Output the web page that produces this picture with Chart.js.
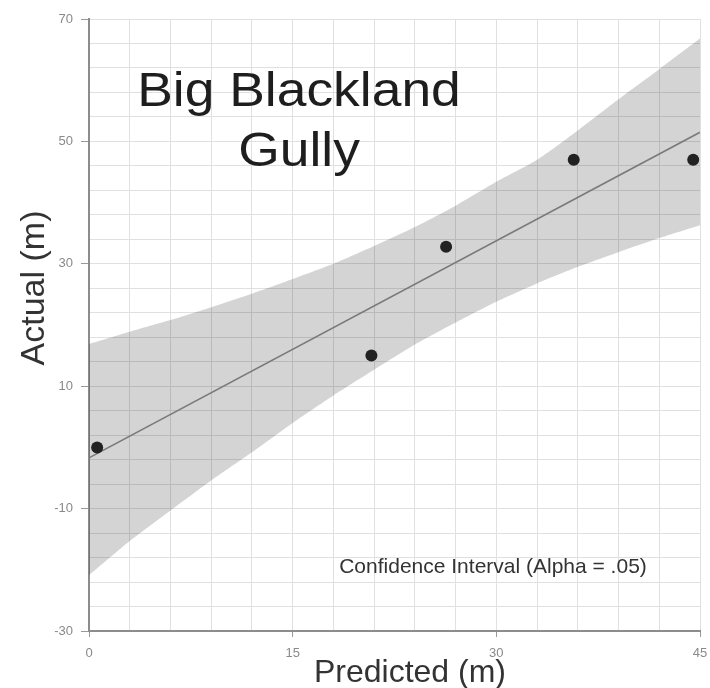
<!DOCTYPE html>
<html>
<head>
<meta charset="utf-8">
<script src="https://cdn.jsdelivr.net/npm/chart.js@4/dist/chart.umd.min.js"></script>
<style>
  html, body { margin: 0; padding: 0; background: #fff; }
  #wrap { width: 710px; height: 688px; }
</style>
</head>
<body>
<div id="wrap"><canvas id="fitChart" width="710" height="688"></canvas></div>
<script>
// observed points
var predicted = [0.6, 20.8, 26.3, 35.7, 44.5];
var actual = [0, 15, 32.8, 47, 47];

// fitted line ends
var fitX = [0, 45];
var fitY = [-1.7, 51.5];

// confidence band, read every 3 m
var bandX = [0, 3, 6, 9, 12, 15, 18, 21, 24, 27, 30, 33, 36, 39, 42, 45];
var bandUpper = [16.9, 18.9, 20.8, 22.9, 25.1, 27.5, 30.0, 32.9, 36.0, 39.5, 43.4, 47.0, 51.8, 56.9, 61.8, 66.8];
var bandLower = [-20.9, -15.3, -10.3, -5.4, -0.8, 4.0, 8.5, 12.7, 16.8, 20.4, 23.8, 26.8, 29.5, 31.9, 34.2, 36.3];

// labelled ticks
var xTickLabels = [0, 15, 30, 45];
var yTickLabels = [70, 50, 30, 10, -10, -30];

function pairs(xs, ys) {
    return xs.map(function (x, i) { return { x: x, y: ys[i] }; });
}

var textPlugin = {
    id: "chartText",
    afterDraw: function (chart) {
        var ctx = chart.ctx;
        ctx.save();
        ctx.fillStyle = "#1e1e1e";
        ctx.textAlign = "center";
        ctx.textBaseline = "alphabetic";

        // title, a bit wide like the original
        ctx.font = "49px 'Liberation Sans', Arial, sans-serif";
        ctx.save();
        ctx.translate(299, 0);
        ctx.scale(1.09, 1);
        ctx.fillText("Big Blackland", 0, 106);
        ctx.fillText("Gully", 0, 166);
        ctx.restore();

        ctx.fillStyle = "#333";
        ctx.font = "21px 'Liberation Sans', Arial, sans-serif";
        ctx.fillText("Confidence Interval (Alpha = .05)", 493, 573);

        ctx.font = "32px 'Liberation Sans', Arial, sans-serif";
        ctx.fillText("Predicted (m)", 410, 682);

        ctx.save();
        ctx.translate(44, 288);
        ctx.rotate(-Math.PI / 2);
        ctx.font = "34px 'Liberation Sans', Arial, sans-serif";
        ctx.fillText("Actual (m)", 0, 0);
        ctx.restore();

        ctx.restore();
    }
};

new Chart(document.getElementById("fitChart"), {
    type: "scatter",
    data: {
        datasets: [{
            data: pairs(predicted, actual),
            pointRadius: 6,
            pointBackgroundColor: "#222",
            pointBorderWidth: 0
        }, {
            data: pairs(fitX, fitY),
            showLine: true,
            borderColor: "#7a7a7a",
            borderWidth: 1.6,
            pointRadius: 0
        }, {
            data: pairs(bandX, bandUpper),
            showLine: true,
            fill: "+1",
            backgroundColor: "rgba(0,0,0,0.17)",
            borderWidth: 0,
            borderColor: "rgba(0,0,0,0)",
            pointRadius: 0,
            tension: 0.2
        }, {
            data: pairs(bandX, bandLower),
            showLine: true,
            borderWidth: 0,
            borderColor: "rgba(0,0,0,0)",
            pointRadius: 0,
            tension: 0.2
        }]
    },
    options: {
        responsive: false,
        animation: false,
        layout: { padding: { top: 19, right: 10, left: 0, bottom: 0 } },
        plugins: {
            legend: { display: false },
            tooltip: { enabled: false }
        },
        scales: {
            x: {
                type: "linear",
                min: 0,
                max: 45,
                afterFit: function (s) {
                    s.height = 57;
                    s.paddingLeft = 0;
                    s.paddingRight = 0;
                },
                grid: {
                    color: "#e0e0e0",
                    tickLength: 6,
                    tickColor: function (c) {
                        return c.tick && xTickLabels.includes(c.tick.value) ? "#999" : "rgba(0,0,0,0)";
                    }
                },
                border: { color: "#8c8c8c", width: 2 },
                ticks: {
                    stepSize: 3,
                    autoSkip: false,
                    maxRotation: 0,
                    padding: 9,
                    color: "#8a8a8a",
                    font: { size: 13, family: "'Liberation Sans', Arial, sans-serif" },
                    callback: function (v) { return xTickLabels.includes(v) ? String(v) : ""; }
                }
            },
            y: {
                min: -30,
                max: 70,
                afterFit: function (s) {
                    s.width = 89;
                    s.paddingTop = 0;
                    s.paddingBottom = 0;
                },
                grid: {
                    color: "#e0e0e0",
                    tickLength: 8,
                    tickColor: function (c) {
                        return c.tick && yTickLabels.includes(c.tick.value) ? "#999" : "rgba(0,0,0,0)";
                    }
                },
                border: { color: "#8c8c8c", width: 2 },
                ticks: {
                    stepSize: 4,
                    autoSkip: false,
                    padding: 8,
                    color: "#8a8a8a",
                    font: { size: 13, family: "'Liberation Sans', Arial, sans-serif" },
                    callback: function (v) { return yTickLabels.includes(v) ? String(v) : ""; }
                }
            }
        }
    },
    plugins: [textPlugin]
});
</script>
</body>
</html>
